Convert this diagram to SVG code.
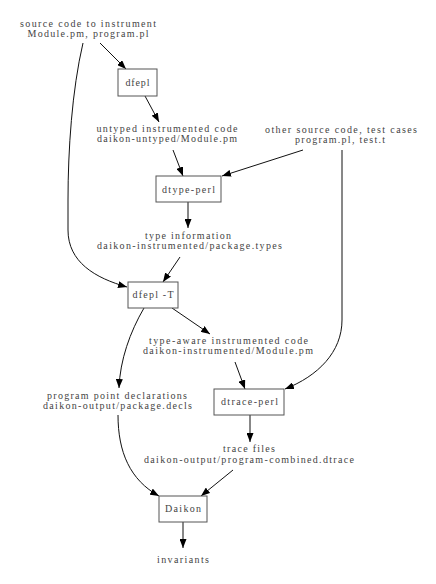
<svg xmlns="http://www.w3.org/2000/svg" width="436" height="584" viewBox="0 0 436 584">
<style>
text{font-family:"Liberation Serif","Times New Roman",serif;font-size:10px;fill:#444;text-anchor:middle}
.box{fill:#fff;stroke:#555;stroke-width:1}
.edge{fill:none;stroke:#111;stroke-width:1;marker-end:url(#ah)}
</style>
<defs>
<marker id="ah" markerWidth="9" markerHeight="7" refX="9" refY="3.5" orient="auto" markerUnits="userSpaceOnUse">
<path d="M0,0 L9,3.5 L0,7 z" fill="#000"/>
</marker>
</defs>
<rect width="436" height="584" fill="#fff"/>
<g id="connectors">
<path class="edge" d="M100,43 L126,69"/>
<path class="edge" d="M145,96 L159,122"/>
<path class="edge" d="M173,150 L183,176"/>
<path class="edge" d="M303,150 L222,176"/>
<path class="edge" d="M188,202 L188,228"/>
<path class="edge" d="M180,257 L163,282"/>
<path class="edge" d="M83,43 C72,90 68,150 68,200 L68,230 C68,262 95,278 127,287"/>
<path class="edge" d="M172,308 L210,334"/>
<path class="edge" d="M144,308 C130,332 120,360 119,388"/>
<path class="edge" d="M235,362 L245,389"/>
<path class="edge" d="M342,150 L342,320 C342,352 318,376 285,389"/>
<path class="edge" d="M250,415 L250,442"/>
<path class="edge" d="M118,415 C118,452 130,480 159,496"/>
<path class="edge" d="M233,470 L201,496"/>
<path class="edge" d="M183,522 L183,548"/>
</g>
<g id="src">
<text x="88" y="27" textLength="136" lengthAdjust="spacing">source code to instrument</text>
<text x="88" y="37" textLength="121" lengthAdjust="spacing">Module.pm, program.pl</text>
</g>
<g id="dfepl">
<rect class="box" x="118" y="69" width="39" height="27"/>
<text x="137.5" y="86" textLength="24" lengthAdjust="spacing">dfepl</text>
</g>
<g id="untyped">
<text x="167" y="132" textLength="141" lengthAdjust="spacing">untyped instrumented code</text>
<text x="167" y="142" textLength="140" lengthAdjust="spacing">daikon-untyped/Module.pm</text>
</g>
<g id="other">
<text x="341" y="133" textLength="152" lengthAdjust="spacing">other source code, test cases</text>
<text x="340" y="143" textLength="90" lengthAdjust="spacing">program.pl, test.t</text>
</g>
<g id="dtype-perl">
<rect class="box" x="156" y="176" width="65" height="26"/>
<text x="188.5" y="193" textLength="53" lengthAdjust="spacing">dtype-perl</text>
</g>
<g id="types">
<text x="188" y="239" textLength="86" lengthAdjust="spacing">type information</text>
<text x="189.5" y="249" textLength="185" lengthAdjust="spacing">daikon-instrumented/package.types</text>
</g>
<g id="dfepl-T">
<rect class="box" x="128" y="282" width="50" height="26"/>
<text x="153" y="298" textLength="41" lengthAdjust="spacing">dfepl -T</text>
</g>
<g id="typeaware">
<text x="228.5" y="344" textLength="159" lengthAdjust="spacing">type-aware instrumented code</text>
<text x="228" y="354" textLength="170" lengthAdjust="spacing">daikon-instrumented/Module.pm</text>
</g>
<g id="decls">
<text x="117" y="399" textLength="140" lengthAdjust="spacing">program point declarations</text>
<text x="117.5" y="409" textLength="149" lengthAdjust="spacing">daikon-output/package.decls</text>
</g>
<g id="dtrace-perl">
<rect class="box" x="214" y="389" width="70" height="26"/>
<text x="249.5" y="405" textLength="57" lengthAdjust="spacing">dtrace-perl</text>
</g>
<g id="trace">
<text x="249" y="452" textLength="52" lengthAdjust="spacing">trace files</text>
<text x="249" y="463" textLength="210" lengthAdjust="spacing">daikon-output/program-combined.dtrace</text>
</g>
<g id="daikon">
<rect class="box" x="159" y="496" width="48" height="26"/>
<text x="183" y="512" textLength="36" lengthAdjust="spacing">Daikon</text>
</g>
<g id="invariants">
<text x="183" y="563" textLength="52" lengthAdjust="spacing">invariants</text>
</g>
</svg>
